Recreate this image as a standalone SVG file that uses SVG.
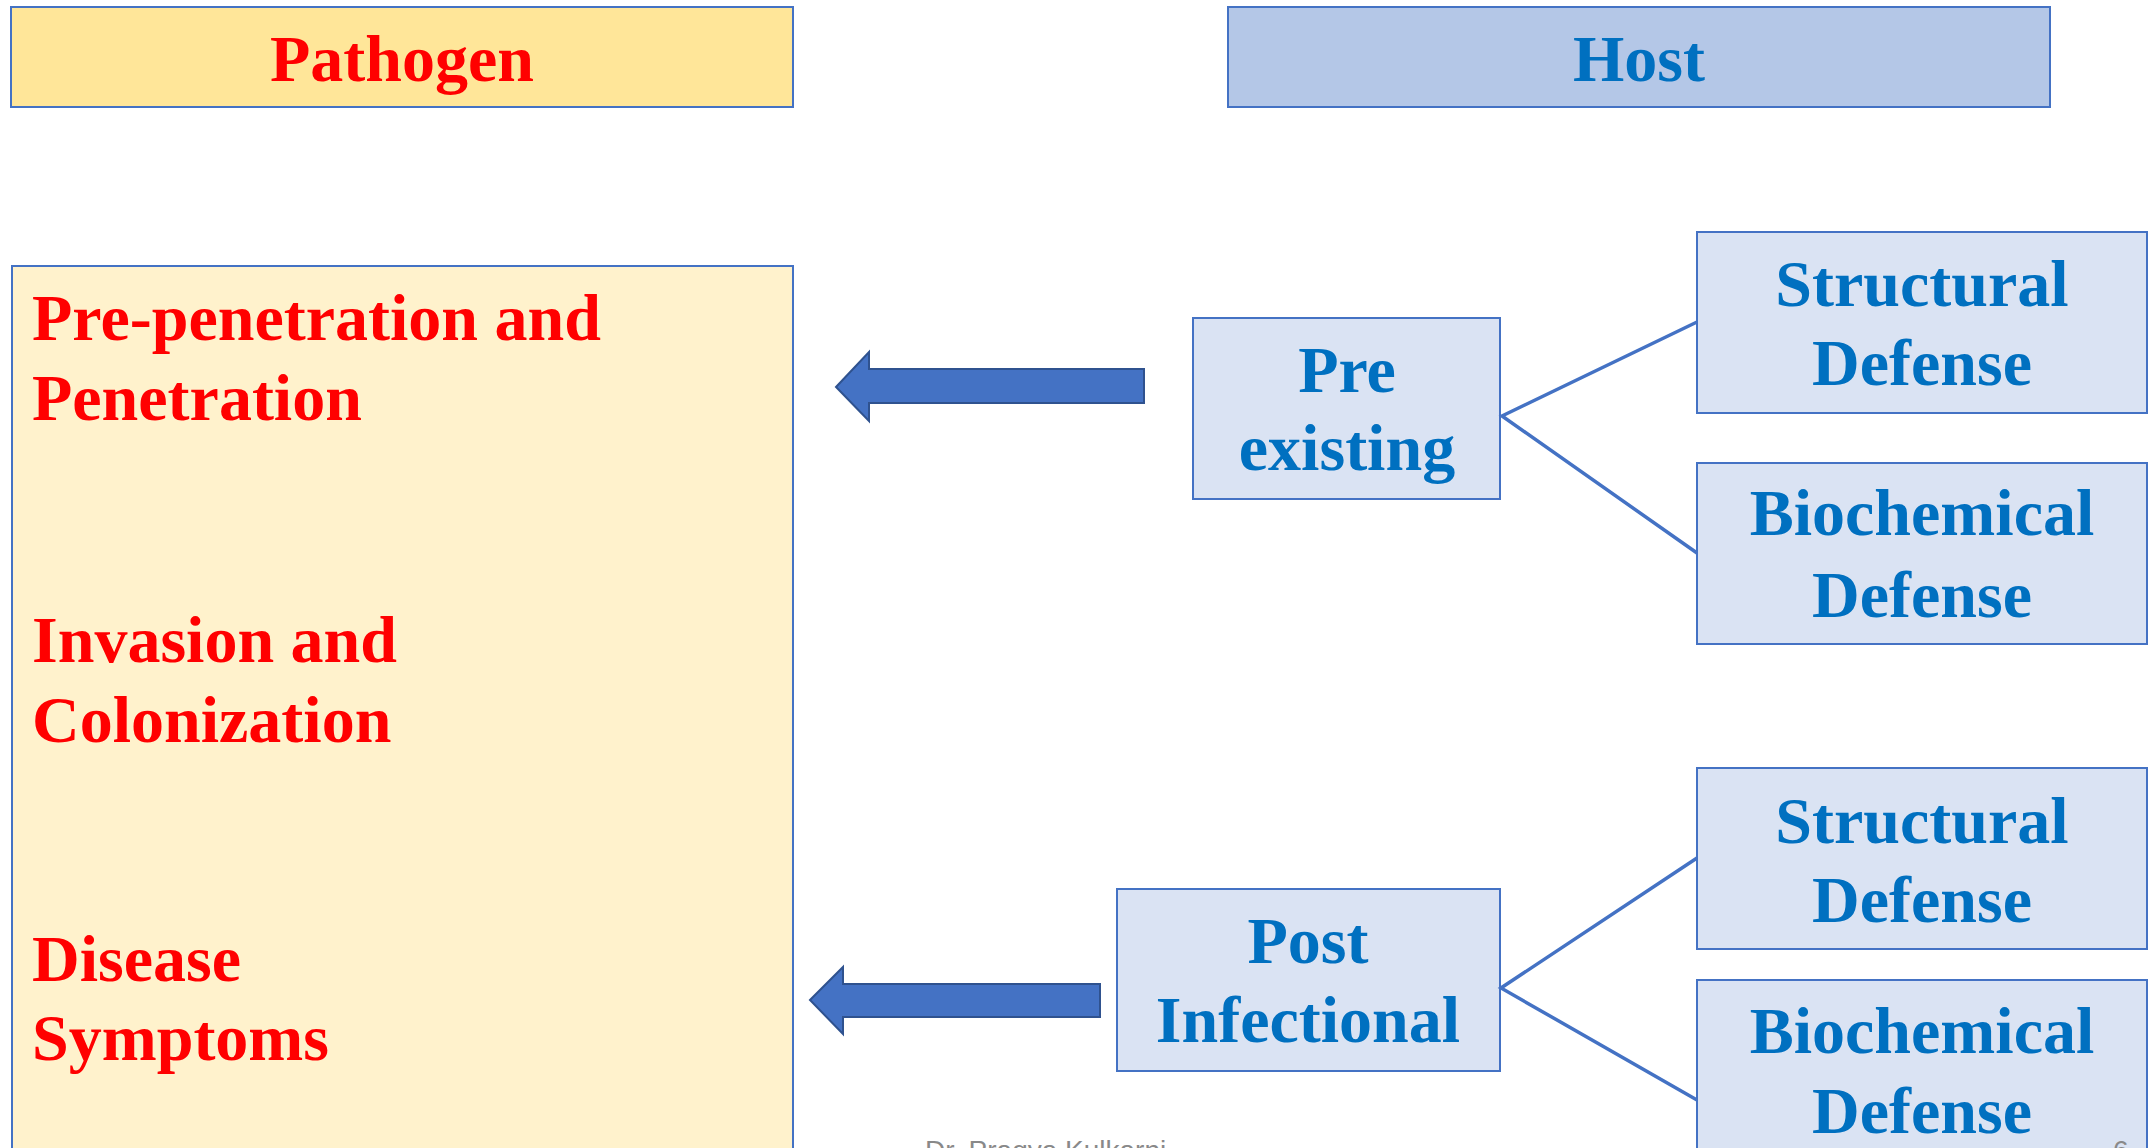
<svg xmlns="http://www.w3.org/2000/svg" width="2154" height="1148" viewBox="0 0 2154 1148">
<style>
  .box { stroke: #4472C4; stroke-width: 2; }
  .t { font-family: "Liberation Serif", "Times New Roman", serif; font-weight: bold; font-size: 66px; }
  .red { fill: #FF0000; }
  .blue { fill: #0070C0; }
  .mid { text-anchor: middle; }
  .conn { stroke: #4472C4; stroke-width: 3.5; fill: none; }
  .arrow { fill: #4472C4; stroke: #2F528F; stroke-width: 2; }
  .foot { font-family: "Liberation Sans", Arial, sans-serif; font-size: 28px; fill: #898989; }
</style>
<rect width="2154" height="1148" fill="#FFFFFF"/>

<g id="pathogen-header">
  <rect class="box" x="11" y="7" width="782" height="100" fill="#FFE699"/>
  <text class="t red mid" x="402" y="81">Pathogen</text>
</g>

<g id="host-header">
  <rect class="box" x="1228" y="7" width="822" height="100" fill="#B4C7E7"/>
  <text class="t blue mid" x="1639" y="81">Host</text>
</g>

<g id="pathogen-stages">
  <rect class="box" x="12" y="266" width="781" height="900" fill="#FFF2CC"/>
  <text class="t red" x="32" y="340">Pre-penetration and</text>
  <text class="t red" x="32" y="420">Penetration</text>
  <text class="t red" x="32" y="662">Invasion and</text>
  <text class="t red" x="32" y="742">Colonization</text>
  <text class="t red" x="32" y="981">Disease</text>
  <text class="t red" x="32" y="1060">Symptoms</text>
</g>

<g id="pre-existing">
  <rect class="box" x="1193" y="318" width="307" height="181" fill="#DAE3F3"/>
  <text class="t blue mid" x="1347" y="392">Pre</text>
  <text class="t blue mid" x="1347" y="470">existing</text>
</g>

<g id="structural-1">
  <rect class="box" x="1697" y="232" width="450" height="181" fill="#DAE3F3"/>
  <text class="t blue mid" x="1922" y="306">Structural</text>
  <text class="t blue mid" x="1922" y="385">Defense</text>
</g>

<g id="biochemical-1">
  <rect class="box" x="1697" y="463" width="450" height="181" fill="#DAE3F3"/>
  <text class="t blue mid" x="1922" y="535">Biochemical</text>
  <text class="t blue mid" x="1922" y="617">Defense</text>
</g>

<g id="post-infectional">
  <rect class="box" x="1117" y="889" width="383" height="182" fill="#DAE3F3"/>
  <text class="t blue mid" x="1308" y="963">Post</text>
  <text class="t blue mid" x="1308" y="1042">Infectional</text>
</g>

<g id="structural-2">
  <rect class="box" x="1697" y="768" width="450" height="181" fill="#DAE3F3"/>
  <text class="t blue mid" x="1922" y="843">Structural</text>
  <text class="t blue mid" x="1922" y="922">Defense</text>
</g>

<g id="biochemical-2">
  <rect class="box" x="1697" y="980" width="450" height="200" fill="#DAE3F3"/>
  <text class="t blue mid" x="1922" y="1053">Biochemical</text>
  <text class="t blue mid" x="1922" y="1133">Defense</text>
</g>

<g id="connectors">
  <polyline class="conn" points="1697,322 1502,416 1697,553"/>
  <polyline class="conn" points="1697,858 1501,988 1697,1100"/>
  <polygon class="arrow" points="836,387 869,352 869,369 1144,369 1144,403 869,403 869,421"/>
  <polygon class="arrow" points="810,1000 843,967 843,984 1100,984 1100,1017 843,1017 843,1034"/>
</g>

<g id="footer">
  <text class="foot" x="925" y="1160">Dr. Pragya Kulkarni</text>
  <text class="foot" x="2113" y="1160">6</text>
</g>
</svg>
